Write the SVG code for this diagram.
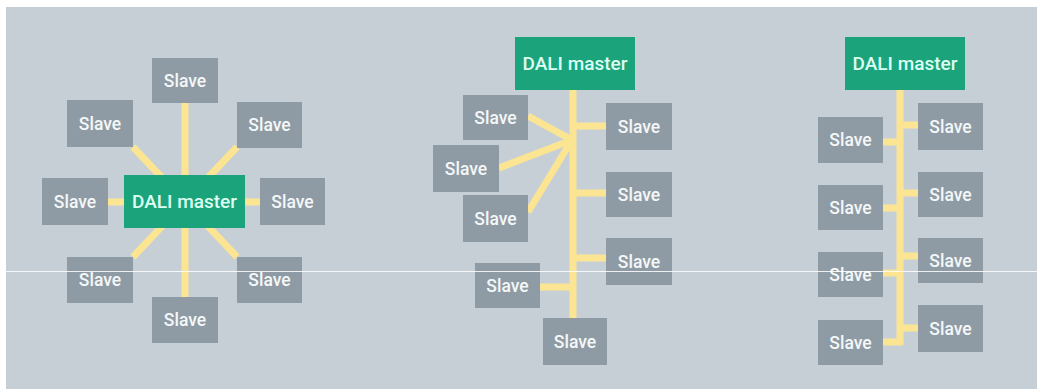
<svg xmlns="http://www.w3.org/2000/svg" width="1037" height="389" viewBox="0 0 1037 389">
<style>
.slave{fill:#8f9ba4}
.master{fill:#1ba37b}
.t{font-family:Roboto,"Liberation Sans",sans-serif;fill:#f4f7f8;text-anchor:middle;dominant-baseline:central;font-weight:500}
.ts{font-size:17.5px}
.tm{font-size:19px;fill:#dcfff1}
.c{stroke:#fbe592;stroke-width:7;fill:none;stroke-linecap:butt}
</style>
<rect x="0" y="0" width="1037" height="389" fill="#ffffff"/>
<rect x="6" y="7" width="1031" height="382" fill="#c7cfd6"/>
<g id="connectors">
<line class="c" x1="185" y1="103" x2="185" y2="297"/>
<line class="c" x1="108" y1="202" x2="260" y2="202"/>
<line class="c" x1="133" y1="147" x2="185" y2="202"/>
<line class="c" x1="237" y1="147" x2="185" y2="202"/>
<line class="c" x1="133" y1="257" x2="185" y2="202"/>
<line class="c" x1="237" y1="257" x2="185" y2="202"/>
<line class="c" x1="573" y1="90" x2="573" y2="320"/>
<line class="c" x1="528" y1="116" x2="572" y2="140"/>
<line class="c" x1="499" y1="168" x2="572" y2="140"/>
<line class="c" x1="528" y1="212" x2="572" y2="140"/>
<line class="c" x1="573" y1="126" x2="606" y2="126"/>
<line class="c" x1="573" y1="193" x2="606" y2="193"/>
<line class="c" x1="573" y1="258" x2="606" y2="258"/>
<line class="c" x1="540" y1="287" x2="573" y2="287"/>
<line class="c" x1="900" y1="90" x2="900" y2="345"/>
<line class="c" x1="900" y1="125" x2="918" y2="125"/>
<line class="c" x1="900" y1="193" x2="918" y2="193"/>
<line class="c" x1="900" y1="256" x2="918" y2="256"/>
<line class="c" x1="900" y1="328" x2="918" y2="328"/>
<line class="c" x1="883" y1="142" x2="900" y2="142"/>
<line class="c" x1="883" y1="208" x2="900" y2="208"/>
<line class="c" x1="883" y1="273" x2="900" y2="273"/>
<line class="c" x1="883" y1="342" x2="903" y2="342"/>
</g>
<g id="star-master"><rect class="master" x="124" y="175" width="121" height="53"/><text class="t tm" x="184.5" y="201.5">DALI master</text></g>
<g id="star-s1"><rect class="slave" x="152" y="58" width="66" height="45"/><text class="t ts" x="185" y="80.5">Slave</text></g>
<g id="star-s2"><rect class="slave" x="67" y="100" width="66" height="47"/><text class="t ts" x="100" y="123.5">Slave</text></g>
<g id="star-s3"><rect class="slave" x="237" y="102" width="65" height="46"/><text class="t ts" x="269.5" y="125">Slave</text></g>
<g id="star-s4"><rect class="slave" x="42" y="178" width="66" height="47"/><text class="t ts" x="75" y="201.5">Slave</text></g>
<g id="star-s5"><rect class="slave" x="260" y="178" width="65" height="47"/><text class="t ts" x="292.5" y="201.5">Slave</text></g>
<g id="star-s6"><rect class="slave" x="67" y="257" width="66" height="46"/><text class="t ts" x="100" y="280">Slave</text></g>
<g id="star-s7"><rect class="slave" x="237" y="257" width="65" height="46"/><text class="t ts" x="269.5" y="280">Slave</text></g>
<g id="star-s8"><rect class="slave" x="152" y="297" width="66" height="46"/><text class="t ts" x="185" y="320">Slave</text></g>
<g id="tree-master"><rect class="master" x="515" y="37" width="120" height="53"/><text class="t tm" x="575" y="63.5">DALI master</text></g>
<g id="tree-s1"><rect class="slave" x="463" y="95" width="65" height="45"/><text class="t ts" x="495.5" y="117.5">Slave</text></g>
<g id="tree-s2"><rect class="slave" x="433" y="145" width="66" height="47"/><text class="t ts" x="466" y="168.5">Slave</text></g>
<g id="tree-s3"><rect class="slave" x="463" y="195" width="65" height="47"/><text class="t ts" x="495.5" y="218.5">Slave</text></g>
<g id="tree-s4"><rect class="slave" x="475" y="263" width="65" height="45"/><text class="t ts" x="507.5" y="285.5">Slave</text></g>
<g id="tree-s5"><rect class="slave" x="543" y="318" width="64" height="47"/><text class="t ts" x="575" y="341.5">Slave</text></g>
<g id="tree-s6"><rect class="slave" x="606" y="103" width="66" height="47"/><text class="t ts" x="639" y="126.5">Slave</text></g>
<g id="tree-s7"><rect class="slave" x="606" y="172" width="66" height="45"/><text class="t ts" x="639" y="194.5">Slave</text></g>
<g id="tree-s8"><rect class="slave" x="606" y="238" width="66" height="47"/><text class="t ts" x="639" y="261.5">Slave</text></g>
<g id="line-master"><rect class="master" x="845" y="37" width="120" height="53"/><text class="t tm" x="905" y="63.5">DALI master</text></g>
<g id="line-l1"><rect class="slave" x="818" y="117" width="65" height="46"/><text class="t ts" x="850.5" y="140">Slave</text></g>
<g id="line-l2"><rect class="slave" x="818" y="185" width="65" height="45"/><text class="t ts" x="850.5" y="207.5">Slave</text></g>
<g id="line-l3"><rect class="slave" x="818" y="252" width="65" height="45"/><text class="t ts" x="850.5" y="274.5">Slave</text></g>
<g id="line-l4"><rect class="slave" x="818" y="320" width="65" height="45"/><text class="t ts" x="850.5" y="342.5">Slave</text></g>
<g id="line-r1"><rect class="slave" x="918" y="103" width="65" height="47"/><text class="t ts" x="950.5" y="126.5">Slave</text></g>
<g id="line-r2"><rect class="slave" x="918" y="172" width="65" height="45"/><text class="t ts" x="950.5" y="194.5">Slave</text></g>
<g id="line-r3"><rect class="slave" x="918" y="238" width="65" height="45"/><text class="t ts" x="950.5" y="260.5">Slave</text></g>
<g id="line-r4"><rect class="slave" x="918" y="305" width="65" height="47"/><text class="t ts" x="950.5" y="328.5">Slave</text></g>
<line x1="0" y1="271.5" x2="1037" y2="271.5" stroke="#ffffff" stroke-opacity="0.85" stroke-width="1"/>
</svg>
